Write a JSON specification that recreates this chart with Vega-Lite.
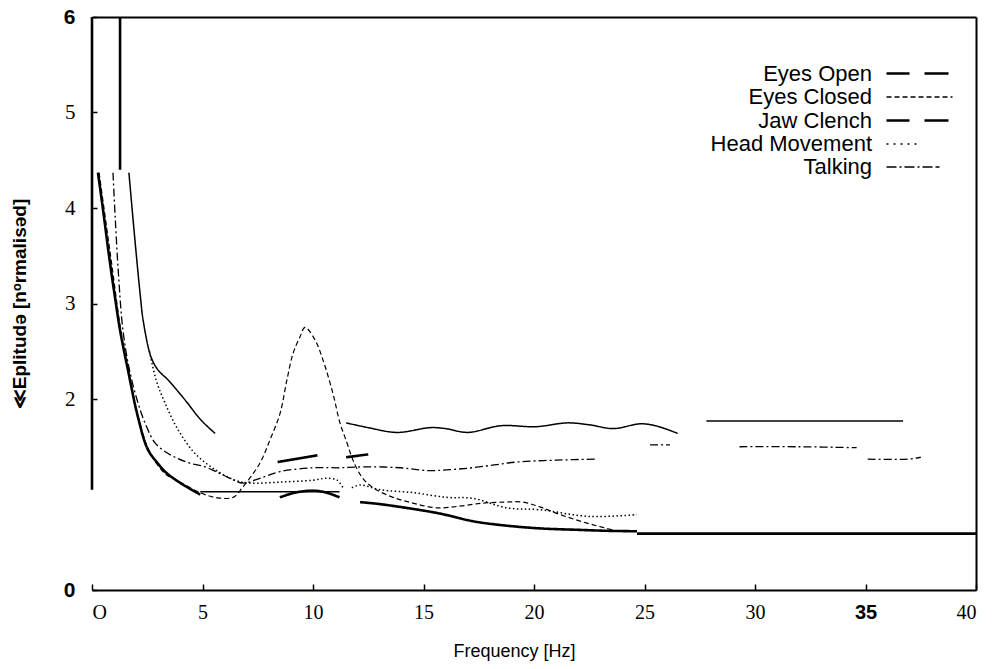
{
  "$schema": "https://vega.github.io/schema/vega-lite/v6.json",
  "width": 884,
  "height": 573,
  "autosize": {"type": "none"},
  "padding": {"left": 92, "top": 17, "right": 24, "bottom": 79},
  "background": "white",
  "config": {"view": {"stroke": null}, "font": "Liberation Sans"},
  "data": {"values": [
    {"Series": "Eyes Open", "Segment": "a", "Frequency": 0, "Amplitude": 1.05},
    {"Series": "Eyes Open", "Segment": "a", "Frequency": 0, "Amplitude": 6},
    {"Series": "Eyes Open", "Segment": "b", "Frequency": 1.27, "Amplitude": 4.4},
    {"Series": "Eyes Open", "Segment": "b", "Frequency": 1.27, "Amplitude": 6},
    {"Series": "Eyes Open", "Segment": "c", "Frequency": 0.27, "Amplitude": 4.37},
    {"Series": "Eyes Open", "Segment": "c", "Frequency": 0.5, "Amplitude": 3.98},
    {"Series": "Eyes Open", "Segment": "c", "Frequency": 0.8, "Amplitude": 3.45},
    {"Series": "Eyes Open", "Segment": "c", "Frequency": 1.05, "Amplitude": 3.05},
    {"Series": "Eyes Open", "Segment": "c", "Frequency": 1.27, "Amplitude": 2.72},
    {"Series": "Eyes Open", "Segment": "c", "Frequency": 1.63, "Amplitude": 2.3},
    {"Series": "Eyes Open", "Segment": "c", "Frequency": 2.08, "Amplitude": 1.81},
    {"Series": "Eyes Open", "Segment": "c", "Frequency": 2.53, "Amplitude": 1.47},
    {"Series": "Eyes Open", "Segment": "c", "Frequency": 3.0, "Amplitude": 1.32},
    {"Series": "Eyes Open", "Segment": "c", "Frequency": 3.3, "Amplitude": 1.24},
    {"Series": "Eyes Open", "Segment": "c", "Frequency": 4.0, "Amplitude": 1.12},
    {"Series": "Eyes Open", "Segment": "c", "Frequency": 4.66, "Amplitude": 1.03},
    {"Series": "Eyes Open", "Segment": "c", "Frequency": 4.9, "Amplitude": 1.0},
    {"Series": "Eyes Open", "Segment": "e", "Frequency": 8.5, "Amplitude": 0.97},
    {"Series": "Eyes Open", "Segment": "e", "Frequency": 9.2, "Amplitude": 1.02},
    {"Series": "Eyes Open", "Segment": "e", "Frequency": 10, "Amplitude": 1.04},
    {"Series": "Eyes Open", "Segment": "e", "Frequency": 10.6, "Amplitude": 1.02},
    {"Series": "Eyes Open", "Segment": "e", "Frequency": 11.2, "Amplitude": 0.97},
    {"Series": "Eyes Open", "Segment": "f", "Frequency": 8.4, "Amplitude": 1.34},
    {"Series": "Eyes Open", "Segment": "f", "Frequency": 10.2, "Amplitude": 1.41},
    {"Series": "Eyes Open", "Segment": "g", "Frequency": 11.5, "Amplitude": 1.39},
    {"Series": "Eyes Open", "Segment": "g", "Frequency": 12.5, "Amplitude": 1.42},
    {"Series": "Eyes Open", "Segment": "h", "Frequency": 12.13, "Amplitude": 0.92},
    {"Series": "Eyes Open", "Segment": "h", "Frequency": 13, "Amplitude": 0.9},
    {"Series": "Eyes Open", "Segment": "h", "Frequency": 14.5, "Amplitude": 0.85},
    {"Series": "Eyes Open", "Segment": "h", "Frequency": 15.75, "Amplitude": 0.8},
    {"Series": "Eyes Open", "Segment": "h", "Frequency": 17.24, "Amplitude": 0.72},
    {"Series": "Eyes Open", "Segment": "h", "Frequency": 18.5, "Amplitude": 0.68},
    {"Series": "Eyes Open", "Segment": "h", "Frequency": 20.27, "Amplitude": 0.645},
    {"Series": "Eyes Open", "Segment": "h", "Frequency": 22, "Amplitude": 0.63},
    {"Series": "Eyes Open", "Segment": "h", "Frequency": 23.3, "Amplitude": 0.62},
    {"Series": "Eyes Open", "Segment": "h", "Frequency": 24.66, "Amplitude": 0.615},
    {"Series": "Eyes Open", "Segment": "i", "Frequency": 24.66, "Amplitude": 0.59},
    {"Series": "Eyes Open", "Segment": "i", "Frequency": 40, "Amplitude": 0.59},

    {"Series": "Jaw Clench", "Segment": "a", "Frequency": 1.67, "Amplitude": 4.37},
    {"Series": "Jaw Clench", "Segment": "a", "Frequency": 1.85, "Amplitude": 3.9},
    {"Series": "Jaw Clench", "Segment": "a", "Frequency": 2.05, "Amplitude": 3.4},
    {"Series": "Jaw Clench", "Segment": "a", "Frequency": 2.2, "Amplitude": 3.05},
    {"Series": "Jaw Clench", "Segment": "a", "Frequency": 2.31, "Amplitude": 2.83},
    {"Series": "Jaw Clench", "Segment": "a", "Frequency": 2.67, "Amplitude": 2.44},
    {"Series": "Jaw Clench", "Segment": "a", "Frequency": 3.0, "Amplitude": 2.3},
    {"Series": "Jaw Clench", "Segment": "a", "Frequency": 3.44, "Amplitude": 2.2},
    {"Series": "Jaw Clench", "Segment": "a", "Frequency": 4.21, "Amplitude": 1.99},
    {"Series": "Jaw Clench", "Segment": "a", "Frequency": 4.93, "Amplitude": 1.78},
    {"Series": "Jaw Clench", "Segment": "a", "Frequency": 5.57, "Amplitude": 1.64},
    {"Series": "Jaw Clench", "Segment": "b", "Frequency": 4.9, "Amplitude": 1.03},
    {"Series": "Jaw Clench", "Segment": "b", "Frequency": 11.2, "Amplitude": 1.03},
    {"Series": "Jaw Clench", "Segment": "c", "Frequency": 11.5, "Amplitude": 1.75},
    {"Series": "Jaw Clench", "Segment": "c", "Frequency": 12.5, "Amplitude": 1.7},
    {"Series": "Jaw Clench", "Segment": "c", "Frequency": 13.8, "Amplitude": 1.65},
    {"Series": "Jaw Clench", "Segment": "c", "Frequency": 15.3, "Amplitude": 1.7},
    {"Series": "Jaw Clench", "Segment": "c", "Frequency": 16, "Amplitude": 1.69},
    {"Series": "Jaw Clench", "Segment": "c", "Frequency": 17, "Amplitude": 1.65},
    {"Series": "Jaw Clench", "Segment": "c", "Frequency": 18.5, "Amplitude": 1.72},
    {"Series": "Jaw Clench", "Segment": "c", "Frequency": 20.1, "Amplitude": 1.71},
    {"Series": "Jaw Clench", "Segment": "c", "Frequency": 21.5, "Amplitude": 1.75},
    {"Series": "Jaw Clench", "Segment": "c", "Frequency": 22.5, "Amplitude": 1.73},
    {"Series": "Jaw Clench", "Segment": "c", "Frequency": 23.6, "Amplitude": 1.69},
    {"Series": "Jaw Clench", "Segment": "c", "Frequency": 24.8, "Amplitude": 1.74},
    {"Series": "Jaw Clench", "Segment": "c", "Frequency": 25.5, "Amplitude": 1.72},
    {"Series": "Jaw Clench", "Segment": "c", "Frequency": 26.5, "Amplitude": 1.64},
    {"Series": "Jaw Clench", "Segment": "d", "Frequency": 27.8, "Amplitude": 1.77},
    {"Series": "Jaw Clench", "Segment": "d", "Frequency": 36.7, "Amplitude": 1.77},

    {"Series": "Eyes Closed", "Segment": "a", "Frequency": 0.32, "Amplitude": 4.37},
    {"Series": "Eyes Closed", "Segment": "a", "Frequency": 0.6, "Amplitude": 3.9},
    {"Series": "Eyes Closed", "Segment": "a", "Frequency": 0.9, "Amplitude": 3.4},
    {"Series": "Eyes Closed", "Segment": "a", "Frequency": 1.3, "Amplitude": 2.72},
    {"Series": "Eyes Closed", "Segment": "a", "Frequency": 1.65, "Amplitude": 2.28},
    {"Series": "Eyes Closed", "Segment": "a", "Frequency": 2.1, "Amplitude": 1.8},
    {"Series": "Eyes Closed", "Segment": "a", "Frequency": 2.6, "Amplitude": 1.45},
    {"Series": "Eyes Closed", "Segment": "a", "Frequency": 3.3, "Amplitude": 1.22},
    {"Series": "Eyes Closed", "Segment": "a", "Frequency": 3.98, "Amplitude": 1.13},
    {"Series": "Eyes Closed", "Segment": "a", "Frequency": 4.89, "Amplitude": 1.02},
    {"Series": "Eyes Closed", "Segment": "a", "Frequency": 5.57, "Amplitude": 0.97},
    {"Series": "Eyes Closed", "Segment": "a", "Frequency": 6.38, "Amplitude": 0.97},
    {"Series": "Eyes Closed", "Segment": "a", "Frequency": 6.83, "Amplitude": 1.08},
    {"Series": "Eyes Closed", "Segment": "a", "Frequency": 7.6, "Amplitude": 1.33},
    {"Series": "Eyes Closed", "Segment": "a", "Frequency": 8.05, "Amplitude": 1.57},
    {"Series": "Eyes Closed", "Segment": "a", "Frequency": 8.51, "Amplitude": 1.85},
    {"Series": "Eyes Closed", "Segment": "a", "Frequency": 8.82, "Amplitude": 2.2},
    {"Series": "Eyes Closed", "Segment": "a", "Frequency": 9.1, "Amplitude": 2.48},
    {"Series": "Eyes Closed", "Segment": "a", "Frequency": 9.41, "Amplitude": 2.65},
    {"Series": "Eyes Closed", "Segment": "a", "Frequency": 9.64, "Amplitude": 2.75},
    {"Series": "Eyes Closed", "Segment": "a", "Frequency": 10.09, "Amplitude": 2.62},
    {"Series": "Eyes Closed", "Segment": "a", "Frequency": 10.45, "Amplitude": 2.41},
    {"Series": "Eyes Closed", "Segment": "a", "Frequency": 10.9, "Amplitude": 2.06},
    {"Series": "Eyes Closed", "Segment": "a", "Frequency": 11.22, "Amplitude": 1.75},
    {"Series": "Eyes Closed", "Segment": "a", "Frequency": 11.54, "Amplitude": 1.54},
    {"Series": "Eyes Closed", "Segment": "a", "Frequency": 11.81, "Amplitude": 1.36},
    {"Series": "Eyes Closed", "Segment": "a", "Frequency": 12.22, "Amplitude": 1.18},
    {"Series": "Eyes Closed", "Segment": "a", "Frequency": 12.72, "Amplitude": 1.07},
    {"Series": "Eyes Closed", "Segment": "a", "Frequency": 13.62, "Amplitude": 0.97},
    {"Series": "Eyes Closed", "Segment": "a", "Frequency": 14.52, "Amplitude": 0.91},
    {"Series": "Eyes Closed", "Segment": "a", "Frequency": 15.61, "Amplitude": 0.86},
    {"Series": "Eyes Closed", "Segment": "a", "Frequency": 16.7, "Amplitude": 0.88},
    {"Series": "Eyes Closed", "Segment": "a", "Frequency": 17.69, "Amplitude": 0.91},
    {"Series": "Eyes Closed", "Segment": "a", "Frequency": 18.6, "Amplitude": 0.92},
    {"Series": "Eyes Closed", "Segment": "a", "Frequency": 19.5, "Amplitude": 0.92},
    {"Series": "Eyes Closed", "Segment": "a", "Frequency": 20.27, "Amplitude": 0.87},
    {"Series": "Eyes Closed", "Segment": "a", "Frequency": 21.18, "Amplitude": 0.79},
    {"Series": "Eyes Closed", "Segment": "a", "Frequency": 22.4, "Amplitude": 0.7},
    {"Series": "Eyes Closed", "Segment": "a", "Frequency": 23.89, "Amplitude": 0.61},

    {"Series": "Head Movement", "Segment": "a", "Frequency": 2.6, "Amplitude": 2.5},
    {"Series": "Head Movement", "Segment": "a", "Frequency": 2.9, "Amplitude": 2.2},
    {"Series": "Head Movement", "Segment": "a", "Frequency": 3.3, "Amplitude": 1.96},
    {"Series": "Head Movement", "Segment": "a", "Frequency": 3.89, "Amplitude": 1.68},
    {"Series": "Head Movement", "Segment": "a", "Frequency": 4.66, "Amplitude": 1.43},
    {"Series": "Head Movement", "Segment": "a", "Frequency": 5.57, "Amplitude": 1.26},
    {"Series": "Head Movement", "Segment": "a", "Frequency": 6.47, "Amplitude": 1.15},
    {"Series": "Head Movement", "Segment": "a", "Frequency": 7.19, "Amplitude": 1.12},
    {"Series": "Head Movement", "Segment": "a", "Frequency": 8.51, "Amplitude": 1.13},
    {"Series": "Head Movement", "Segment": "a", "Frequency": 10.0, "Amplitude": 1.15},
    {"Series": "Head Movement", "Segment": "a", "Frequency": 10.63, "Amplitude": 1.17},
    {"Series": "Head Movement", "Segment": "a", "Frequency": 11.09, "Amplitude": 1.15},
    {"Series": "Head Movement", "Segment": "a", "Frequency": 11.36, "Amplitude": 1.07},
    {"Series": "Head Movement", "Segment": "b", "Frequency": 11.76, "Amplitude": 1.07},
    {"Series": "Head Movement", "Segment": "b", "Frequency": 12.13, "Amplitude": 1.1},
    {"Series": "Head Movement", "Segment": "b", "Frequency": 13.03, "Amplitude": 1.05},
    {"Series": "Head Movement", "Segment": "b", "Frequency": 14.52, "Amplitude": 1.02},
    {"Series": "Head Movement", "Segment": "b", "Frequency": 16.06, "Amplitude": 0.97},
    {"Series": "Head Movement", "Segment": "b", "Frequency": 17.24, "Amplitude": 0.96},
    {"Series": "Head Movement", "Segment": "b", "Frequency": 18.78, "Amplitude": 0.86},
    {"Series": "Head Movement", "Segment": "b", "Frequency": 20.27, "Amplitude": 0.84},
    {"Series": "Head Movement", "Segment": "b", "Frequency": 22.53, "Amplitude": 0.77},
    {"Series": "Head Movement", "Segment": "b", "Frequency": 24.66, "Amplitude": 0.79},

    {"Series": "Talking", "Segment": "a", "Frequency": 0.95, "Amplitude": 4.37},
    {"Series": "Talking", "Segment": "a", "Frequency": 1.05, "Amplitude": 3.9},
    {"Series": "Talking", "Segment": "a", "Frequency": 1.2, "Amplitude": 3.3},
    {"Series": "Talking", "Segment": "a", "Frequency": 1.4, "Amplitude": 2.72},
    {"Series": "Talking", "Segment": "a", "Frequency": 1.7, "Amplitude": 2.3},
    {"Series": "Talking", "Segment": "a", "Frequency": 2.08, "Amplitude": 1.96},
    {"Series": "Talking", "Segment": "a", "Frequency": 2.45, "Amplitude": 1.72},
    {"Series": "Talking", "Segment": "a", "Frequency": 2.85, "Amplitude": 1.54},
    {"Series": "Talking", "Segment": "a", "Frequency": 3.3, "Amplitude": 1.45},
    {"Series": "Talking", "Segment": "a", "Frequency": 3.76, "Amplitude": 1.39},
    {"Series": "Talking", "Segment": "a", "Frequency": 4.4, "Amplitude": 1.33},
    {"Series": "Talking", "Segment": "a", "Frequency": 5.11, "Amplitude": 1.29},
    {"Series": "Talking", "Segment": "a", "Frequency": 5.6, "Amplitude": 1.24},
    {"Series": "Talking", "Segment": "a", "Frequency": 6.15, "Amplitude": 1.18},
    {"Series": "Talking", "Segment": "a", "Frequency": 6.83, "Amplitude": 1.12},
    {"Series": "Talking", "Segment": "a", "Frequency": 7.6, "Amplitude": 1.17},
    {"Series": "Talking", "Segment": "a", "Frequency": 8.51, "Amplitude": 1.24},
    {"Series": "Talking", "Segment": "a", "Frequency": 10.0, "Amplitude": 1.28},
    {"Series": "Talking", "Segment": "a", "Frequency": 11.22, "Amplitude": 1.28},
    {"Series": "Talking", "Segment": "a", "Frequency": 12.44, "Amplitude": 1.29},
    {"Series": "Talking", "Segment": "a", "Frequency": 13.94, "Amplitude": 1.28},
    {"Series": "Talking", "Segment": "a", "Frequency": 15.2, "Amplitude": 1.25},
    {"Series": "Talking", "Segment": "a", "Frequency": 16.2, "Amplitude": 1.26},
    {"Series": "Talking", "Segment": "a", "Frequency": 17.2, "Amplitude": 1.28},
    {"Series": "Talking", "Segment": "a", "Frequency": 18.2, "Amplitude": 1.31},
    {"Series": "Talking", "Segment": "a", "Frequency": 19.23, "Amplitude": 1.34},
    {"Series": "Talking", "Segment": "a", "Frequency": 21, "Amplitude": 1.36},
    {"Series": "Talking", "Segment": "a", "Frequency": 22.85, "Amplitude": 1.37},
    {"Series": "Talking", "Segment": "b", "Frequency": 25.25, "Amplitude": 1.52},
    {"Series": "Talking", "Segment": "b", "Frequency": 26.15, "Amplitude": 1.52},
    {"Series": "Talking", "Segment": "c", "Frequency": 29.3, "Amplitude": 1.5},
    {"Series": "Talking", "Segment": "c", "Frequency": 32, "Amplitude": 1.5},
    {"Series": "Talking", "Segment": "c", "Frequency": 34.6, "Amplitude": 1.49},
    {"Series": "Talking", "Segment": "d", "Frequency": 35.1, "Amplitude": 1.37},
    {"Series": "Talking", "Segment": "d", "Frequency": 36.9, "Amplitude": 1.37},
    {"Series": "Talking", "Segment": "d", "Frequency": 37.5, "Amplitude": 1.39}
  ]},
  "resolve": {
    "axis": {"x": "independent", "y": "independent"},
    "scale": {"strokeDash": "independent", "strokeWidth": "independent"}
  },
  "layer": [
    {
      "mark": {"type": "line", "interpolate": "catmull-rom", "color": "black", "clip": false},
      "encoding": {
        "x": {
          "field": "Frequency", "type": "quantitative",
          "scale": {"domain": [0, 40], "nice": false, "zero": false},
          "axis": {
            "values": [0, 5, 10, 15, 20, 25, 30, 35, 40],
            "grid": false, "domain": true, "domainColor": "black", "domainWidth": 2,
            "ticks": true, "tickColor": "black", "tickSize": -6, "tickWidth": 1.5,
            "labelFont": {"condition": {"test": "datum.value == 35", "value": "Liberation Sans"}, "value": "Liberation Serif"},
            "labelFontWeight": {"condition": {"test": "datum.value == 35", "value": "bold"}, "value": "normal"},
            "labelFontSize": 20, "labelColor": "black", "labelPadding": 18,
            "labelExpr": "datum.value == 0 ? 'O' : datum.label",
            "title": "Frequency [Hz]", "titleFont": "Liberation Sans", "titleFontSize": 18,
            "titleFontWeight": "normal", "titleColor": "black",
            "titleX": 422, "titleY": 66, "titleAlign": "center", "titleBaseline": "alphabetic"
          }
        },
        "y": {
          "field": "Amplitude", "type": "quantitative",
          "scale": {"domain": [0, 6], "nice": false, "zero": true},
          "axis": {
            "values": [0, 2, 3, 4, 5, 6],
            "grid": false, "domain": false,
            "ticks": true, "tickColor": "black", "tickSize": -5, "tickWidth": 1.5,
            "labelFont": {"condition": {"test": "datum.value == 0 || datum.value == 6", "value": "Liberation Sans"}, "value": "Liberation Serif"},
            "labelFontWeight": {"condition": {"test": "datum.value == 0 || datum.value == 6", "value": "bold"}, "value": "normal"},
            "labelFontSize": 21, "labelColor": "black", "labelPadding": 22,
            "title": "≪Eplitudә [nᵒrmalisәd]", "titleFont": "Liberation Sans", "titleFontSize": 19,
            "titleFontWeight": "bold", "titleColor": "black", "titlePadding": 34
          }
        },
        "strokeDash": {
          "field": "Series", "type": "nominal",
          "scale": {
            "domain": ["Eyes Open", "Eyes Closed", "Jaw Clench", "Head Movement", "Talking"],
            "range": [[1, 0], [5, 3], [1, 0], [1.5, 2.5], [8, 3, 2, 3]]
          },
          "legend": null
        },
        "strokeWidth": {
          "field": "Series", "type": "nominal",
          "scale": {
            "type": "ordinal",
            "domain": ["Eyes Open", "Eyes Closed", "Jaw Clench", "Head Movement", "Talking"],
            "range": [2.6, 1.2, 1.5, 1.5, 1.3]
          },
          "legend": null
        },
        "detail": {"field": "Segment", "type": "nominal"}
      }
    },
    {
      "mark": {"type": "line", "opacity": 0, "color": "black"},
      "encoding": {
        "x": {
          "field": "Frequency", "type": "quantitative",
          "axis": {"orient": "top", "domain": true, "domainColor": "black", "domainWidth": 2,
                   "ticks": false, "labels": false, "title": null, "grid": false}
        },
        "y": {
          "field": "Amplitude", "type": "quantitative",
          "axis": {"orient": "right", "domain": true, "domainColor": "black", "domainWidth": 2,
                   "ticks": false, "labels": false, "title": null, "grid": false}
        },
        "strokeDash": {
          "field": "Series", "type": "nominal",
          "scale": {
            "domain": ["Eyes Open", "Eyes Closed", "Jaw Clench", "Head Movement", "Talking"],
            "range": [[23, 15, 24, 30], [5, 3], [23, 15, 24, 30], [2, 5, 2, 5, 2, 5, 2, 5, 2, 60], [10, 3, 2, 3, 10, 3, 2, 3, 10, 3, 4, 40]]
          },
          "legend": {
            "title": null, "orient": "none", "legendX": 782, "legendY": 44,
            "symbolType": "M0,0H6", "symbolSize": 484, "symbolStrokeColor": "black",
            "symbolOpacity": 1,
            "labelAlign": "right", "labelOffset": -27, "labelFont": "Liberation Sans",
            "labelFontSize": 22, "labelColor": "black", "labelLimit": 400,
            "rowPadding": 0, "padding": 0
          }
        },
        "strokeWidth": {
          "field": "Series", "type": "nominal",
          "scale": {
            "type": "ordinal",
            "domain": ["Eyes Open", "Eyes Closed", "Jaw Clench", "Head Movement", "Talking"],
            "range": [2.5, 1.3, 2.5, 1.6, 1.4]
          },
          "legend": {
            "title": null, "orient": "none", "legendX": 782, "legendY": 44,
            "symbolType": "M0,0H6", "symbolSize": 484, "symbolStrokeColor": "black",
            "symbolOpacity": 1,
            "labelAlign": "right", "labelOffset": -27, "labelFont": "Liberation Sans",
            "labelFontSize": 22, "labelColor": "black", "labelLimit": 400,
            "rowPadding": 0, "padding": 0
          }
        },
        "detail": {"field": "Segment", "type": "nominal"}
      }
    }
  ]
}
